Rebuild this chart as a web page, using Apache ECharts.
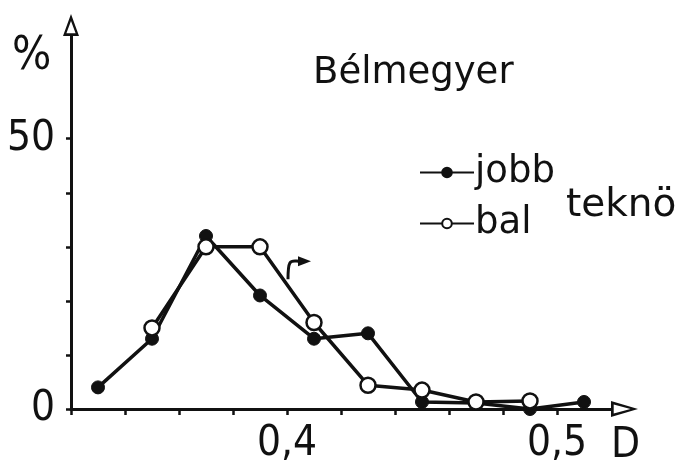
<!DOCTYPE html>
<html>
<head>
<meta charset="utf-8">
<script src="https://cdn.jsdelivr.net/npm/echarts@6/dist/echarts.min.js"></script>
<style>
  html, body { margin: 0; padding: 0; background: #fff; }
  #chart { width: 693px; height: 465px; }
</style>
</head>
<body>
<div id="chart"></div>
<script>
// értékek
const jobbX = [0.33, 0.35, 0.37, 0.39, 0.41, 0.43, 0.45, 0.47, 0.49, 0.51]
const jobbY = [4, 13, 32, 21, 13, 14, 1.3, 1.1, 0, 1.3]
const balX = [0.35, 0.37, 0.39, 0.41, 0.43, 0.45, 0.47, 0.49]
const balY = [15, 30, 30, 16, 4.4, 3.5, 1.3, 1.5]
const xTicks = [0.32, 0.34, 0.36, 0.38, 0.40, 0.42, 0.44, 0.46, 0.48, 0.50]
const xLabels = [0.4, 0.5]
const yTicks = [0, 10, 20, 30, 40, 50]
const yLabels = [0, 50]

const ink = '#111'
const numFont = "'Liberation Sans Narrow', 'DejaVu Sans Condensed', Roboto, sans-serif"
const txtFont = "'DejaVu Sans', sans-serif"
// nyitott háromszög nyílhegyek (szélesség x hossz arányban)
const arrowX = 'path://M0,0 L8,27 L-8,27 Z M0,7.5 L-4.6,24.3 L4.6,24.3 Z'
const arrowY = 'path://M0,0 L8,22 L-8,22 Z M0,7 L-4.6,19.3 L4.6,19.3 Z'

const chart = echarts.init(document.getElementById('chart'))

const pairs = (xs, ys) => xs.map((x, i) => [x, ys[i]])

chart.setOption({
  animation: false,
  backgroundColor: '#fff',
  title: {
    text: 'Bélmegyer',
    left: 308,
    top: 50,
    textStyle: { fontFamily: txtFont, fontWeight: 'normal', fontSize: 37, color: ink }
  },
  legend: {
    orient: 'vertical',
    left: 414,
    top: 149,
    itemWidth: 54,
    itemHeight: 12,
    itemGap: 14,
    textStyle: { fontFamily: txtFont, fontSize: 37, color: ink, padding: [0, 0, 0, -4] },
    data: ['jobb', 'bal']
  },
  grid: { left: 71, right: 82, top: 36, bottom: 56 },
  xAxis: {
    type: 'value',
    min: 0.32,
    max: 0.52,
    splitLine: { show: false },
    axisLine: {
      lineStyle: { color: ink, width: 3 },
      symbol: ['none', arrowX],
      symbolSize: [16, 27],
      symbolOffset: [0, 13.5]
    },
    axisTick: { customValues: xTicks, length: 6, lineStyle: { color: ink, width: 2.5 } },
    axisLabel: {
      customValues: xLabels,
      margin: 14,
      fontFamily: numFont,
      fontSize: 42,
      color: ink,
      formatter: (v) => String(v).replace('.', ',')
    }
  },
  yAxis: {
    type: 'value',
    min: 0,
    max: 69,
    splitLine: { show: false },
    axisLine: {
      lineStyle: { color: ink, width: 3 },
      symbol: ['none', arrowY],
      symbolSize: [16, 22],
      symbolOffset: [0, 11]
    },
    axisTick: { customValues: yTicks, length: 5, lineStyle: { color: ink, width: 2.5 } },
    axisLabel: {
      customValues: yLabels,
      margin: 16,
      fontFamily: numFont,
      fontSize: 42,
      color: ink
    }
  },
  series: [
    {
      name: 'jobb',
      type: 'line',
      data: pairs(jobbX, jobbY),
      symbol: 'circle',
      symbolSize: 13,
      lineStyle: { color: ink, width: 3.5 },
      itemStyle: { color: ink, borderColor: ink, borderWidth: 1 }
    },
    {
      name: 'bal',
      type: 'line',
      data: pairs(balX, balY),
      symbol: 'circle',
      symbolSize: 15,
      lineStyle: { color: ink, width: 3.5 },
      itemStyle: { color: '#fff', borderColor: ink, borderWidth: 2.5 }
    }
  ]
})

// tengelynevek, felirat és a kis nyíl
const hook = chart.convertToPixel({ gridIndex: 0 }, [0.39, 24])
chart.setOption({
  graphic: [
    { type: 'text', x: 12, y: 34, style: { text: '%', font: '46px ' + numFont, fill: ink } },
    { type: 'text', x: 611, y: 425, style: { text: 'D', font: '42px ' + numFont, fill: ink } },
    { type: 'text', x: 566, y: 186, style: { text: 'teknö', font: '39px ' + txtFont, fill: ink } },
    {
      type: 'group',
      x: hook[0],
      y: hook[1],
      children: [
        {
          type: 'bezierCurve',
          shape: { x1: 28, y1: 0, x2: 40, y2: -18, cpx1: 28, cpy1: -22, cpx2: 31, cpy2: -18 },
          style: { stroke: ink, lineWidth: 3, fill: null }
        },
        {
          type: 'polygon',
          shape: { points: [[38, -23], [51, -18], [38, -13]] },
          style: { fill: ink }
        }
      ]
    }
  ]
})
</script>
</body>
</html>
